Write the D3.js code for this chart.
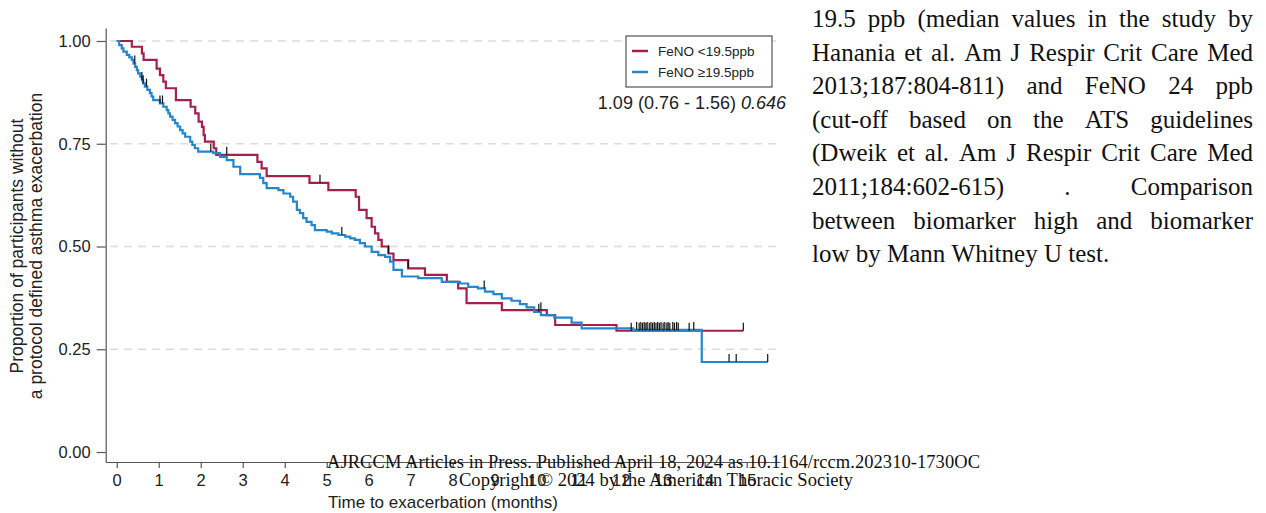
<!DOCTYPE html>
<html>
<head>
<meta charset="utf-8">
<script src="https://cdn.jsdelivr.net/npm/d3@7"></script>
<style>
  body { margin: 0; background: #fff; }
  svg { display: block; }
</style>
</head>
<body>
<div id="vis"></div>
<script>
// data
const groups = ['FeNO <19.5ppb', 'FeNO \u226519.5ppb'];
const groupColors = ['#a31f4c', '#2586cc'];

// [month, proportion] at each drop, last pair = end of follow-up
const lowSteps = [
  [0, 1], [0.36, 0.986], [0.60, 0.970], [0.64, 0.954], [0.95, 0.933], [1.03, 0.917],
  [1.11, 0.901], [1.17, 0.885], [1.41, 0.856], [1.76, 0.840], [1.87, 0.824], [1.95, 0.804],
  [2.03, 0.791], [2.07, 0.771], [2.10, 0.755], [2.31, 0.739], [2.37, 0.723], [3.35, 0.706],
  [3.45, 0.690], [3.57, 0.671], [4.59, 0.655], [5.04, 0.637], [5.69, 0.621], [5.77, 0.589],
  [5.95, 0.569], [6.07, 0.548], [6.15, 0.532], [6.23, 0.516], [6.31, 0.500], [6.47, 0.483],
  [6.59, 0.467], [6.94, 0.447], [7.34, 0.431], [7.86, 0.414], [8.13, 0.398], [8.33, 0.362],
  [9.17, 0.345], [10.24, 0.333], [10.44, 0.309], [11.90, 0.295], [14.92, 0.295]
];
const highSteps = [
  [0, 1], [0.06, 0.990], [0.12, 0.982], [0.16, 0.974], [0.24, 0.966], [0.30, 0.960],
  [0.36, 0.954], [0.40, 0.945], [0.44, 0.937], [0.48, 0.929], [0.51, 0.921], [0.56, 0.913],
  [0.60, 0.905], [0.63, 0.897], [0.67, 0.889], [0.73, 0.881], [0.79, 0.873], [0.83, 0.865],
  [0.87, 0.856], [1.03, 0.848], [1.11, 0.840], [1.19, 0.832], [1.23, 0.824], [1.27, 0.816],
  [1.33, 0.808], [1.39, 0.800], [1.45, 0.792], [1.51, 0.783], [1.57, 0.775], [1.63, 0.767],
  [1.75, 0.755], [1.80, 0.747], [1.86, 0.739], [1.94, 0.731], [2.30, 0.727], [2.46, 0.718],
  [2.62, 0.710], [2.78, 0.694], [2.94, 0.676], [3.41, 0.667], [3.49, 0.654], [3.57, 0.642],
  [3.85, 0.637], [3.97, 0.629], [4.13, 0.621], [4.20, 0.609], [4.29, 0.589], [4.36, 0.581],
  [4.44, 0.569], [4.52, 0.560], [4.64, 0.552], [4.72, 0.540], [5.00, 0.536], [5.12, 0.532],
  [5.28, 0.528], [5.44, 0.524], [5.56, 0.520], [5.67, 0.516], [5.79, 0.508], [5.91, 0.500],
  [6.07, 0.487], [6.23, 0.479], [6.39, 0.475], [6.51, 0.463], [6.59, 0.443], [6.79, 0.427],
  [7.18, 0.423], [7.74, 0.414], [8.17, 0.410], [8.37, 0.402], [8.60, 0.398], [8.77, 0.390],
  [8.97, 0.384], [9.17, 0.374], [9.40, 0.368], [9.60, 0.360], [9.76, 0.352], [9.94, 0.341],
  [10.10, 0.333], [10.42, 0.327], [10.83, 0.315], [11.07, 0.301], [12.30, 0.297],
  [13.93, 0.219], [15.50, 0.219]
];

// censored observations (months)
const lowCensor = [2.62, 4.84, 6.47, 6.94, 10.1, 12.25, 12.44, 12.52, 12.6, 12.68, 12.76,
  12.84, 12.92, 13.01, 13.1, 13.17, 13.28, 13.37, 13.63, 14.92];
const highCensor = [0.43, 0.6, 0.63, 0.71, 1.03, 1.09, 2.24, 5.36, 8.75, 10.05, 12.38, 12.48,
  12.56, 12.63, 12.72, 12.8, 12.88, 12.96, 13.05, 13.13, 13.24, 13.33, 13.74, 14.58, 14.75, 15.5];

const yTicks = [0, 0.25, 0.5, 0.75, 1];
const xTicks = [0, 1, 2, 3, 4, 5, 6, 7, 8, 9, 10, 11, 12, 13, 14, 15];
const hrText = '1.09 (0.76 - 1.56) ';
const pText = '0.646';

const noteLines = [
  '19.5 ppb (median values in the study by',
  'Hanania et al. Am J Respir Crit Care Med',
  '2013;187:804-811) and FeNO 24 ppb',
  '(cut-off based on the ATS guidelines',
  '(Dweik et al. Am J Respir Crit Care Med',
  '2011;184:602-615) . Comparison',
  'between biomarker high and biomarker',
  'low by Mann Whitney U test.'
];
const pressLine = 'AJRCCM Articles in Press. Published April 18, 2024 as 10.1164/rccm.202310-1730OC';
const copyLine = 'Copyright \u00a9 2024 by the American Thoracic Society';

const sans = '"Liberation Sans", Arial, sans-serif';
const serif = '"Liberation Serif", "Times New Roman", serif';

let width = 1266, height = 513;

let svg = d3.select('#vis')
  .append('svg')
  .attr('width', width)
  .attr('height', height)
  .style('background-color', 'white');

// scales: axis lines run a bit past the first / last ticks
let x = d3.scaleLinear().domain([-0.262, 15.793]).range([105.7, 780]);
let y = d3.scaleLinear().domain([-0.0243, 1.0316]).range([462, 28]);

// dashed gridlines
svg.append('g')
  .selectAll('line')
  .data(yTicks.filter(d => d > 0))
  .join('line')
  .attr('x1', 110).attr('x2', 780)
  .attr('y1', d => y(d)).attr('y2', d => y(d))
  .attr('stroke', '#dcdcdc')
  .attr('stroke-width', 1.3)
  .attr('stroke-dasharray', '8,6');

// axes
let yAxis = svg.append('g')
  .attr('transform', 'translate(105.7,0)')
  .call(d3.axisLeft(y).tickValues(yTicks).tickFormat(d3.format('.2f'))
    .tickSizeInner(9).tickSizeOuter(0).tickPadding(6));

let xAxis = svg.append('g')
  .attr('transform', 'translate(0,462)')
  .call(d3.axisBottom(x).tickValues(xTicks).tickFormat(d3.format('d'))
    .tickSizeInner(6).tickSizeOuter(0).tickPadding(6));

[yAxis, xAxis].forEach(a => {
  a.selectAll('.domain, .tick line').attr('stroke', '#555').attr('stroke-width', 1.2);
  a.selectAll('text').attr('fill', '#222')
    .style('font-family', sans).style('font-size', '16.5px');
});

// axis titles
svg.append('text')
  .attr('x', 443).attr('y', 508)
  .attr('text-anchor', 'middle')
  .style('font-family', sans).style('font-size', '17px').attr('fill', '#222')
  .text('Time to exacerbation (months)');

let yTitle = svg.append('text')
  .attr('transform', 'translate(0,246) rotate(-90)')
  .attr('text-anchor', 'middle')
  .style('font-family', sans).style('font-size', '17.5px').attr('fill', '#222');
yTitle.append('tspan').attr('x', 0).attr('y', 23).text('Proportion of participants without');
yTitle.append('tspan').attr('x', 0).attr('y', 42).text('a protocol defined asthma exacerbation');

// survival curves
let stepLine = d3.line()
  .x(d => x(d[0]))
  .y(d => y(d[1]))
  .curve(d3.curveStepAfter);

[lowSteps, highSteps].forEach((s, i) => {
  svg.append('path')
    .datum(s)
    .attr('d', stepLine)
    .attr('fill', 'none')
    .attr('stroke', groupColors[i])
    .attr('stroke-width', 2.2);
});

// censor marks
function valueAt(steps, t) {
  let v = steps[0][1];
  steps.forEach(d => { if (d[0] <= t) v = d[1]; });
  return v;
}

[[lowSteps, lowCensor], [highSteps, highCensor]].forEach(([s, c]) => {
  svg.append('g')
    .selectAll('line')
    .data(c)
    .join('line')
    .attr('x1', d => x(d)).attr('x2', d => x(d))
    .attr('y1', d => y(valueAt(s, d)))
    .attr('y2', d => y(valueAt(s, d)) - 8)
    .attr('stroke', '#111')
    .attr('stroke-width', 1.2);
});

// legend
let legend = svg.append('g');
legend.append('rect')
  .attr('x', 626).attr('y', 36).attr('width', 146).attr('height', 51)
  .attr('fill', 'white').attr('stroke', '#333').attr('stroke-width', 1);

groups.forEach((g, i) => {
  let ly = 51 + i * 21;
  legend.append('line')
    .attr('x1', 632).attr('x2', 648).attr('y1', ly).attr('y2', ly)
    .attr('stroke', groupColors[i]).attr('stroke-width', 2.5);
  legend.append('text')
    .attr('x', 658).attr('y', ly + 5)
    .style('font-family', sans).style('font-size', '13.5px').attr('fill', '#222')
    .text(g);
});

// hazard ratio annotation
let hr = svg.append('text')
  .attr('x', 786).attr('y', 109)
  .attr('text-anchor', 'end')
  .style('font-family', sans).style('font-size', '18px').attr('fill', '#222');
hr.append('tspan').text(hrText);
hr.append('tspan').style('font-style', 'italic').text(pText);

// justified paragraph on the right
let paraLeft = 812, paraRight = 1253, paraTop = 27, lead = 33.6;
let para = svg.append('g')
  .style('font-family', serif).style('font-size', '25px').attr('fill', '#111');

noteLines.forEach((ln, i) => {
  let words = ln.split(' ');
  let nodes = words.map(w => para.append('text').attr('y', paraTop + i * lead).text(w));
  let widths = nodes.map(n => n.node().getComputedTextLength());
  let total = d3.sum(widths);
  let gap = (i === noteLines.length - 1 || words.length < 2)
    ? 6.25
    : (paraRight - paraLeft - total) / (words.length - 1);
  let cx = paraLeft;
  nodes.forEach((n, j) => {
    n.attr('x', cx);
    cx += widths[j] + gap;
  });
});

// journal stamp over the axis
svg.append('text')
  .attr('x', 327).attr('y', 468)
  .attr('textLength', 653).attr('lengthAdjust', 'spacing')
  .style('font-family', serif).style('font-size', '18.5px').attr('fill', '#111')
  .text(pressLine);

svg.append('text')
  .attr('x', 459).attr('y', 486)
  .attr('textLength', 394).attr('lengthAdjust', 'spacing')
  .style('font-family', serif).style('font-size', '18.5px').attr('fill', '#111')
  .text(copyLine);
</script>
</body>
</html>
